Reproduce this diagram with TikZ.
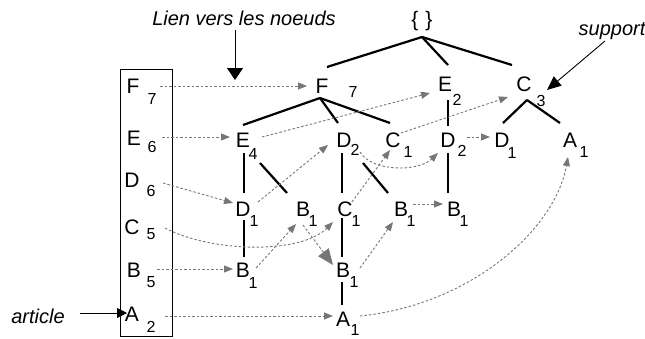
\documentclass[tikz,border=0pt]{standalone}
\usepackage{fontspec}
\setmainfont{Liberation Sans}
\usetikzlibrary{arrows.meta,calc}
\definecolor{linkgray}{RGB}{118,118,118}
\begin{document}
\begin{tikzpicture}[x=1pt,y=-1pt,
  let/.style={inner sep=0pt, font=\fontsize{21}{21}\selectfont},
  sub/.style={inner sep=0pt, font=\fontsize{16}{16}\selectfont},
  lab/.style={inner sep=0pt, font=\fontsize{20}{20}\selectfont\itshape},
  tree/.style={line width=2.2pt},
  lnk/.style={color=linkgray, line width=0.9pt, dash pattern=on 2.5pt off 2pt, -{Triangle[length=9pt,width=7pt]}},
  biglnk/.style={lnk, -{Triangle[length=16pt,width=13pt]}},
  callout/.style={line width=0.9pt}]
\useasboundingbox (0,0) rectangle (645,338);

% labels
\node[lab] (lien) at (244,18) {Lien vers les noeuds};
\node[lab] (support) at (612,31) {support};
\node[lab] (article) at (38,316) {article};

% box
\node[draw, line width=0.8pt, minimum width=52, minimum height=267, inner sep=0pt] (box) at (146,202.5) {};
\node[let] (lF) at (133,86) {F};  \node[sub] (lFs) at (152,99) {7};
\node[let] (lE) at (134,138) {E}; \node[sub] (lEs) at (152,147) {6};
\node[let] (lD) at (132,180) {D}; \node[sub] (lDs) at (151,191) {6};
\node[let] (lC) at (132,227) {C}; \node[sub] (lCs) at (151,234) {5};
\node[let] (lB) at (134,270) {B}; \node[sub] (lBs) at (151,282) {5};
\node[let] (lA) at (132,314) {A}; \node[sub] (lAs) at (151,327) {2};

% tree nodes
\node[let] (root) at (422,21) {\{\,\,\}};
\node[let] (tF) at (322,86) {F};    \node[sub] (tFs) at (353,92) {7};
\node[let] (tE2) at (445,84) {E};   \node[sub] (tE2s) at (457,100) {2};
\node[let] (tC3) at (524,84) {C};   \node[sub] (tC3s) at (541,101) {3};
\node[let] (tE4) at (243,140) {E};  \node[sub] (tE4s) at (253,154) {4};
\node[let] (tD2) at (344,140) {D};  \node[sub] (tD2s) at (355,150) {2};
\node[let] (tC1) at (393,140) {C};  \node[sub] (tC1s) at (408,152) {1};
\node[let] (tD2b) at (448,140) {D}; \node[sub] (tD2bs) at (462,151) {2};
\node[let] (tD1b) at (502,140) {D}; \node[sub] (tD1bs) at (512,153) {1};
\node[let] (tA1b) at (570,140) {A}; \node[sub] (tA1bs) at (584,152) {1};
\node[let] (tD1) at (243,209) {D};  \node[sub] (tD1s) at (254,221) {1};
\node[let] (tB1a) at (303,209) {B}; \node[sub] (tB1as) at (313,221) {1};
\node[let] (tC1m) at (345,209) {C}; \node[sub] (tC1ms) at (356,221) {1};
\node[let] (tB1b) at (401,209) {B}; \node[sub] (tB1bs) at (411,221) {1};
\node[let] (tB1c) at (454,209) {B}; \node[sub] (tB1cs) at (464,221) {1};
\node[let] (tB1d) at (243,270) {B}; \node[sub] (tB1ds) at (253,283) {1};
\node[let] (tB1e) at (343,270) {B}; \node[sub] (tB1es) at (354,282) {1};
\node[let] (tA1) at (343,319) {A};  \node[sub] (tA1s) at (355,330) {1};

% tree edges
\draw[tree] ($(root)+(0,16)$) -- ($(tF)+(5,-19)$);
\draw[tree] ($(root)+(0,16)$) -- ($(tE2)+(3,-19)$);
\draw[tree] ($(root)+(0,16)$) -- ($(tC3)+(-12,-19)$);
\draw[tree] ($(tF)+(-2,12)$) -- ($(tE4)+(0,-15)$);
\draw[tree] ($(tF)+(-2,12)$) -- ($(tD2)+(-6,-17)$);
\draw[tree] ($(tF)+(-2,12)$) -- ($(tC1)+(-3,-17)$);
\draw[tree] ($(tE2)+(3,16)$) -- ($(tD2b)+(0,-14)$);
\draw[tree] ($(tC3)+(3,16)$) -- ($(tD1b)+(1,-17)$);
\draw[tree] ($(tC3)+(3,16)$) -- ($(tA1b)+(-10,-17)$);
\draw[tree] ($(tE4)+(1,13)$) -- ($(tD1)+(1,-16)$);
\draw[tree] ($(tE4)+(17,23)$) -- ($(tB1a)+(-16,-16)$);
\draw[tree] ($(tD2)+(-2,13)$) -- ($(tC1m)+(-3,-16)$);
\draw[tree] ($(tD2)+(19,23)$) -- ($(tB1b)+(-13,-16)$);
\draw[tree] ($(tD2b)+(0,13)$) -- ($(tB1c)+(-6,-16)$);
\draw[tree] ($(tD1)+(1,11)$) -- ($(tB1d)+(1,-13)$);
\draw[tree] ($(tC1m)+(-3,9)$) -- ($(tB1e)+(-1,-13)$);
\draw[tree] ($(tB1e)+(-1,12)$) -- ($(tA1)+(-1,-14)$);

% links from the box
\draw[lnk] ($(lF)+(27,0)$) -- ($(tF)+(-15,0)$);
\draw[lnk] ($(lE)+(28,-1)$) -- ($(tE4)+(-13,-3)$);
\draw[lnk] ($(lD)+(31,3)$) -- ($(tD1)+(-10,-6)$);
\draw[lnk] ($(lC)+(33,1)$) .. controls (210,252) and (300,255) .. ($(tC1m)+(-12,13)$);
\draw[lnk] ($(lB)+(23,-1)$) -- ($(tB1d)+(-10,-1)$);
\draw[lnk] ($(lA)+(33,2)$) -- ($(tA1)+(-10,-3)$);

% links between tree nodes
\draw[lnk] ($(tE4)+(19,-3)$) -- ($(tE2)+(-15,9)$);
\draw[lnk] ($(tD1)+(15,-7)$) -- ($(tD2)+(-16,5)$);
\draw[lnk] ($(tC1)+(8,-7)$) -- ($(tC3)+(-16,13)$);
\draw[lnk] ($(tD2)+(16,12)$) .. controls (372,172) and (418,172) .. ($(tD2b)+(-10,13)$);
\draw[lnk] ($(tD2b)+(19,-3)$) -- ($(tD1b)+(-12,-3)$);
\draw[lnk] ($(tC1m)+(7,-7)$) -- ($(tC1)+(-3,10)$);
\draw[lnk] ($(tB1d)+(13,-2)$) -- ($(tB1a)+(-7,15)$);
\draw[biglnk] ($(tB1a)+(0,16)$) -- ($(tB1e)+(-10,-5)$);
\draw[lnk] ($(tB1e)+(17,-2)$) -- ($(tB1b)+(-8,13)$);
\draw[lnk] ($(tB1b)+(12,-5)$) -- ($(tB1c)+(-11,-5)$);
\draw[lnk] ($(tA1)+(17,-3)$) .. controls (470,305) and (555,230) .. ($(tA1b)+(-2,17)$);

% callout arrows
\coordinate (lienTip) at (235,80);
\draw[callout, -{Triangle[length=12pt,width=16pt]}] ($(lien)+(-9,12)$) -- (lienTip);
\draw[callout, -{Triangle[length=14pt,width=12pt]}] ($(support)+(-7,10)$) -- ($(tC3)+(23,6)$);
\draw[callout, -{Triangle[length=10pt,width=10pt]}] ($(article)+(42,-3)$) -- ($(lA)+(-5,-1)$);
\end{tikzpicture}
\end{document}
